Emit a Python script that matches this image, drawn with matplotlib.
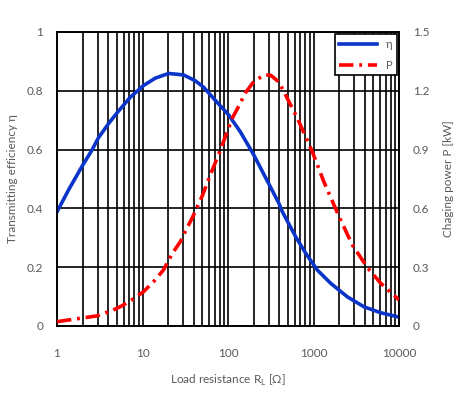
import matplotlib
matplotlib.use("Agg")
import matplotlib.pyplot as plt
from matplotlib.ticker import FixedLocator, LogLocator, NullFormatter

# Data
r_eta = [1.0, 1.36, 1.98, 2.55, 3.05, 4.0, 5.1, 7.2, 10.3, 14.1, 20.2, 30.2, 41.5, 51.9, 67.9,
         101.6, 139, 200, 298, 394, 431, 620, 812, 1110, 1590, 2490, 3900, 6110, 10000]
eta = [0.388, 0.462, 0.545, 0.597, 0.640, 0.688, 0.727, 0.778, 0.818, 0.843, 0.859, 0.854, 0.834,
       0.812, 0.774, 0.718, 0.661, 0.582, 0.485, 0.417, 0.389, 0.303, 0.247, 0.190, 0.145, 0.099,
       0.065, 0.045, 0.030]

r_p = [1.0, 1.55, 2.9, 4.4, 5.7, 7.5, 10.3, 13.8, 17.6, 22.4, 27.7, 33, 38, 49.6, 62, 81.5, 112,
       133, 160, 200, 263, 314, 394, 648, 968, 1320, 1990, 2850, 4330, 6110, 10000]
power = [0.022, 0.034, 0.051, 0.078, 0.102, 0.133, 0.175, 0.231, 0.286, 0.371, 0.43, 0.498, 0.55,
         0.66, 0.77, 0.898, 1.06, 1.12, 1.19, 1.247, 1.28, 1.28, 1.245, 1.06, 0.889, 0.736, 0.558,
         0.413, 0.294, 0.218, 0.133]

x_ticks = [1, 10, 100, 1000, 10000]
x_labels = ["1", "10", "100", "1000", "10000"]
yl_ticks = [0, 0.2, 0.4, 0.6, 0.8, 1.0]
yl_labels = ["0", "0.2", "0.4", "0.6", "0.8", "1"]
yr_ticks = [0, 0.3, 0.6, 0.9, 1.2, 1.5]
yr_labels = ["0", "0.3", "0.6", "0.9", "1.2", "1.5"]

plt.rcParams['font.family'] = ['Lato', 'DejaVu Sans']
gray = '#595959'

fig = plt.figure(figsize=(4.73, 3.98), dpi=100)
ax = fig.add_axes([0.1205, 0.181, 0.7231, 0.7386])
ax2 = ax.twinx()

ax.set_xscale('log')
ax.set_xlim(1, 10000)
ax.set_ylim(0, 1)
ax2.set_ylim(0, 1.5)

ax.xaxis.set_major_locator(FixedLocator(x_ticks))
ax.set_xticklabels(x_labels)
ax.xaxis.set_minor_locator(LogLocator(base=10, subs=range(2, 10), numticks=20))
ax.xaxis.set_minor_formatter(NullFormatter())
ax.set_yticks(yl_ticks)
ax.set_yticklabels(yl_labels)
ax2.set_yticks(yr_ticks)
ax2.set_yticklabels(yr_labels)

ax.grid(True, which='both', axis='x', color='black', linewidth=1.2)
ax.grid(True, which='major', axis='y', color='black', linewidth=1.2)
ax.set_axisbelow(True)

for a in (ax, ax2):
    for s in a.spines.values():
        s.set_color('black')
        s.set_linewidth(1.2)
    a.tick_params(which='both', length=0, colors=gray, labelsize=8.5)
ax.tick_params(axis='x', pad=16)
ax.tick_params(axis='y', pad=10)
ax2.tick_params(axis='y', pad=10)

l1, = ax.plot(r_eta, eta, color='#0a35c8', linewidth=2.6, label='η', zorder=3,
              solid_joinstyle='round')
l2, = ax2.plot(r_p, power, color='#ff0000', linewidth=2.6, linestyle=(0, (4, 1.6, 0.8, 1.6)),
               label='P', zorder=3, dash_joinstyle='round')

ax.set_xlabel('Load resistance R$_\\mathregular{L}$ [Ω]', color=gray, fontsize=8.5, labelpad=10)
ax.set_ylabel('Transmitting efficiency η', color=gray, fontsize=8.5, labelpad=6)
ax2.set_ylabel('Chaging power P [kW]', color=gray, fontsize=8.5, labelpad=10)

leg = ax2.legend(handles=[l1, l2], loc='upper right', fancybox=False, framealpha=1,
                 edgecolor='black', fontsize=8, handlelength=3.4, borderaxespad=0.2,
                 labelcolor=gray, labelspacing=0.9)
leg.get_frame().set_linewidth(1.2)

fig.savefig('out.png', dpi=100)
